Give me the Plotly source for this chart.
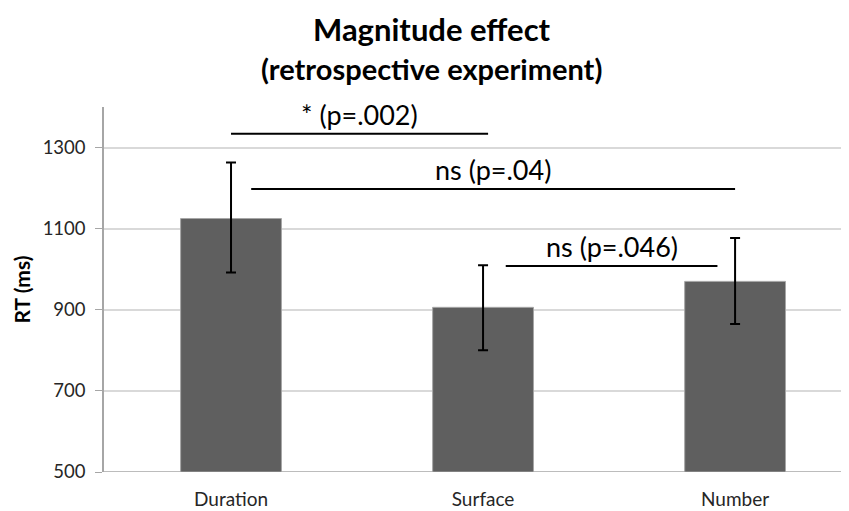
import plotly.graph_objects as go

categories = ["Duration", "Surface", "Number"]
rt_means = [1125, 906, 970]
err_upper = [1263, 1010, 1077]
err_lower = [992, 800, 865]

y_ticks = [500, 700, 900, 1100, 1300]

# significance comparisons: (x start, x end, y level, label)
sig_x0 = [0.0, 0.08, 1.09]
sig_x1 = [1.02, 2.0, 1.93]
sig_y = [1334, 1198, 1008]
sig_labels = ["* (p=.002)", "ns (p=.04)", "ns (p=.046)"]

title_text = "Magnitude effect"
subtitle_text = "(retrospective experiment)"

FONT = "Lato"
TXT = "#262626"

err_plus = [u - m for u, m in zip(err_upper, rt_means)]
err_minus = [m - l for l, m in zip(err_lower, rt_means)]

fig = go.Figure()
fig.add_trace(go.Bar(
    x=list(range(len(categories))), y=[m - 500 for m in rt_means], base=500,
    width=0.4,
    marker=dict(color="#5f5f5f", line=dict(color="#a6a6a6", width=1)),
    error_y=dict(type="data", array=err_plus, arrayminus=err_minus,
                 color="black", thickness=2, width=5),
    showlegend=False,
))

for x0, x1, y, lab in zip(sig_x0, sig_x1, sig_y, sig_labels):
    fig.add_shape(type="line", x0=x0, x1=x1, y0=y, y1=y, xref="x", yref="y",
                  line=dict(color="black", width=2))
    fig.add_annotation(x=(x0 + x1) / 2, y=y, xref="x", yref="y", text=lab,
                       showarrow=False, yanchor="bottom", yshift=1,
                       font=dict(family=FONT, size=27, color="black"))

fig.add_annotation(text="<b>" + title_text + "</b>", xref="paper", yref="paper",
                   x=0.44, y=1.213, xanchor="center", yanchor="middle", showarrow=False,
                   font=dict(family=FONT, size=31, color="black"))
fig.add_annotation(text="<b>" + subtitle_text + "</b>", xref="paper", yref="paper",
                   x=0.44, y=1.105, xanchor="center", yanchor="middle", showarrow=False,
                   font=dict(family=FONT, size=29, color="black"))

fig.update_layout(
    width=841, height=503,
    margin=dict(l=96, r=0, t=99, b=39),
    plot_bgcolor="white", paper_bgcolor="white",
    font=dict(family=FONT, color=TXT),
    bargap=0.6,
)
fig.update_xaxes(
    range=[-0.504, 2.452], tickvals=list(range(len(categories))), ticktext=categories,
    showgrid=False, showline=False, ticks="", zeroline=False, ticklabelstandoff=14,
    tickfont=dict(family=FONT, size=19, color=TXT),
)
fig.update_yaxes(
    range=[500, 1400], tickvals=y_ticks, showgrid=True, gridcolor="#d9d9d9", gridwidth=1.5,
    showline=True, linecolor="#a6a6a6", linewidth=1.5, ticks="outside", ticklen=7,
    tickcolor="#a6a6a6", zeroline=False, ticklabelstandoff=6,
    tickfont=dict(family=FONT, size=18.5, color=TXT),
    title=dict(text="<b>RT (ms)</b>", font=dict(family=FONT, size=21, color="black"), standoff=6),
)
# bottom axis line at 500
fig.add_shape(type="line", xref="paper", yref="y", x0=0, x1=1, y0=500, y1=500,
              line=dict(color="#a6a6a6", width=1.5), layer="below")

fig.write_html("out.html")
